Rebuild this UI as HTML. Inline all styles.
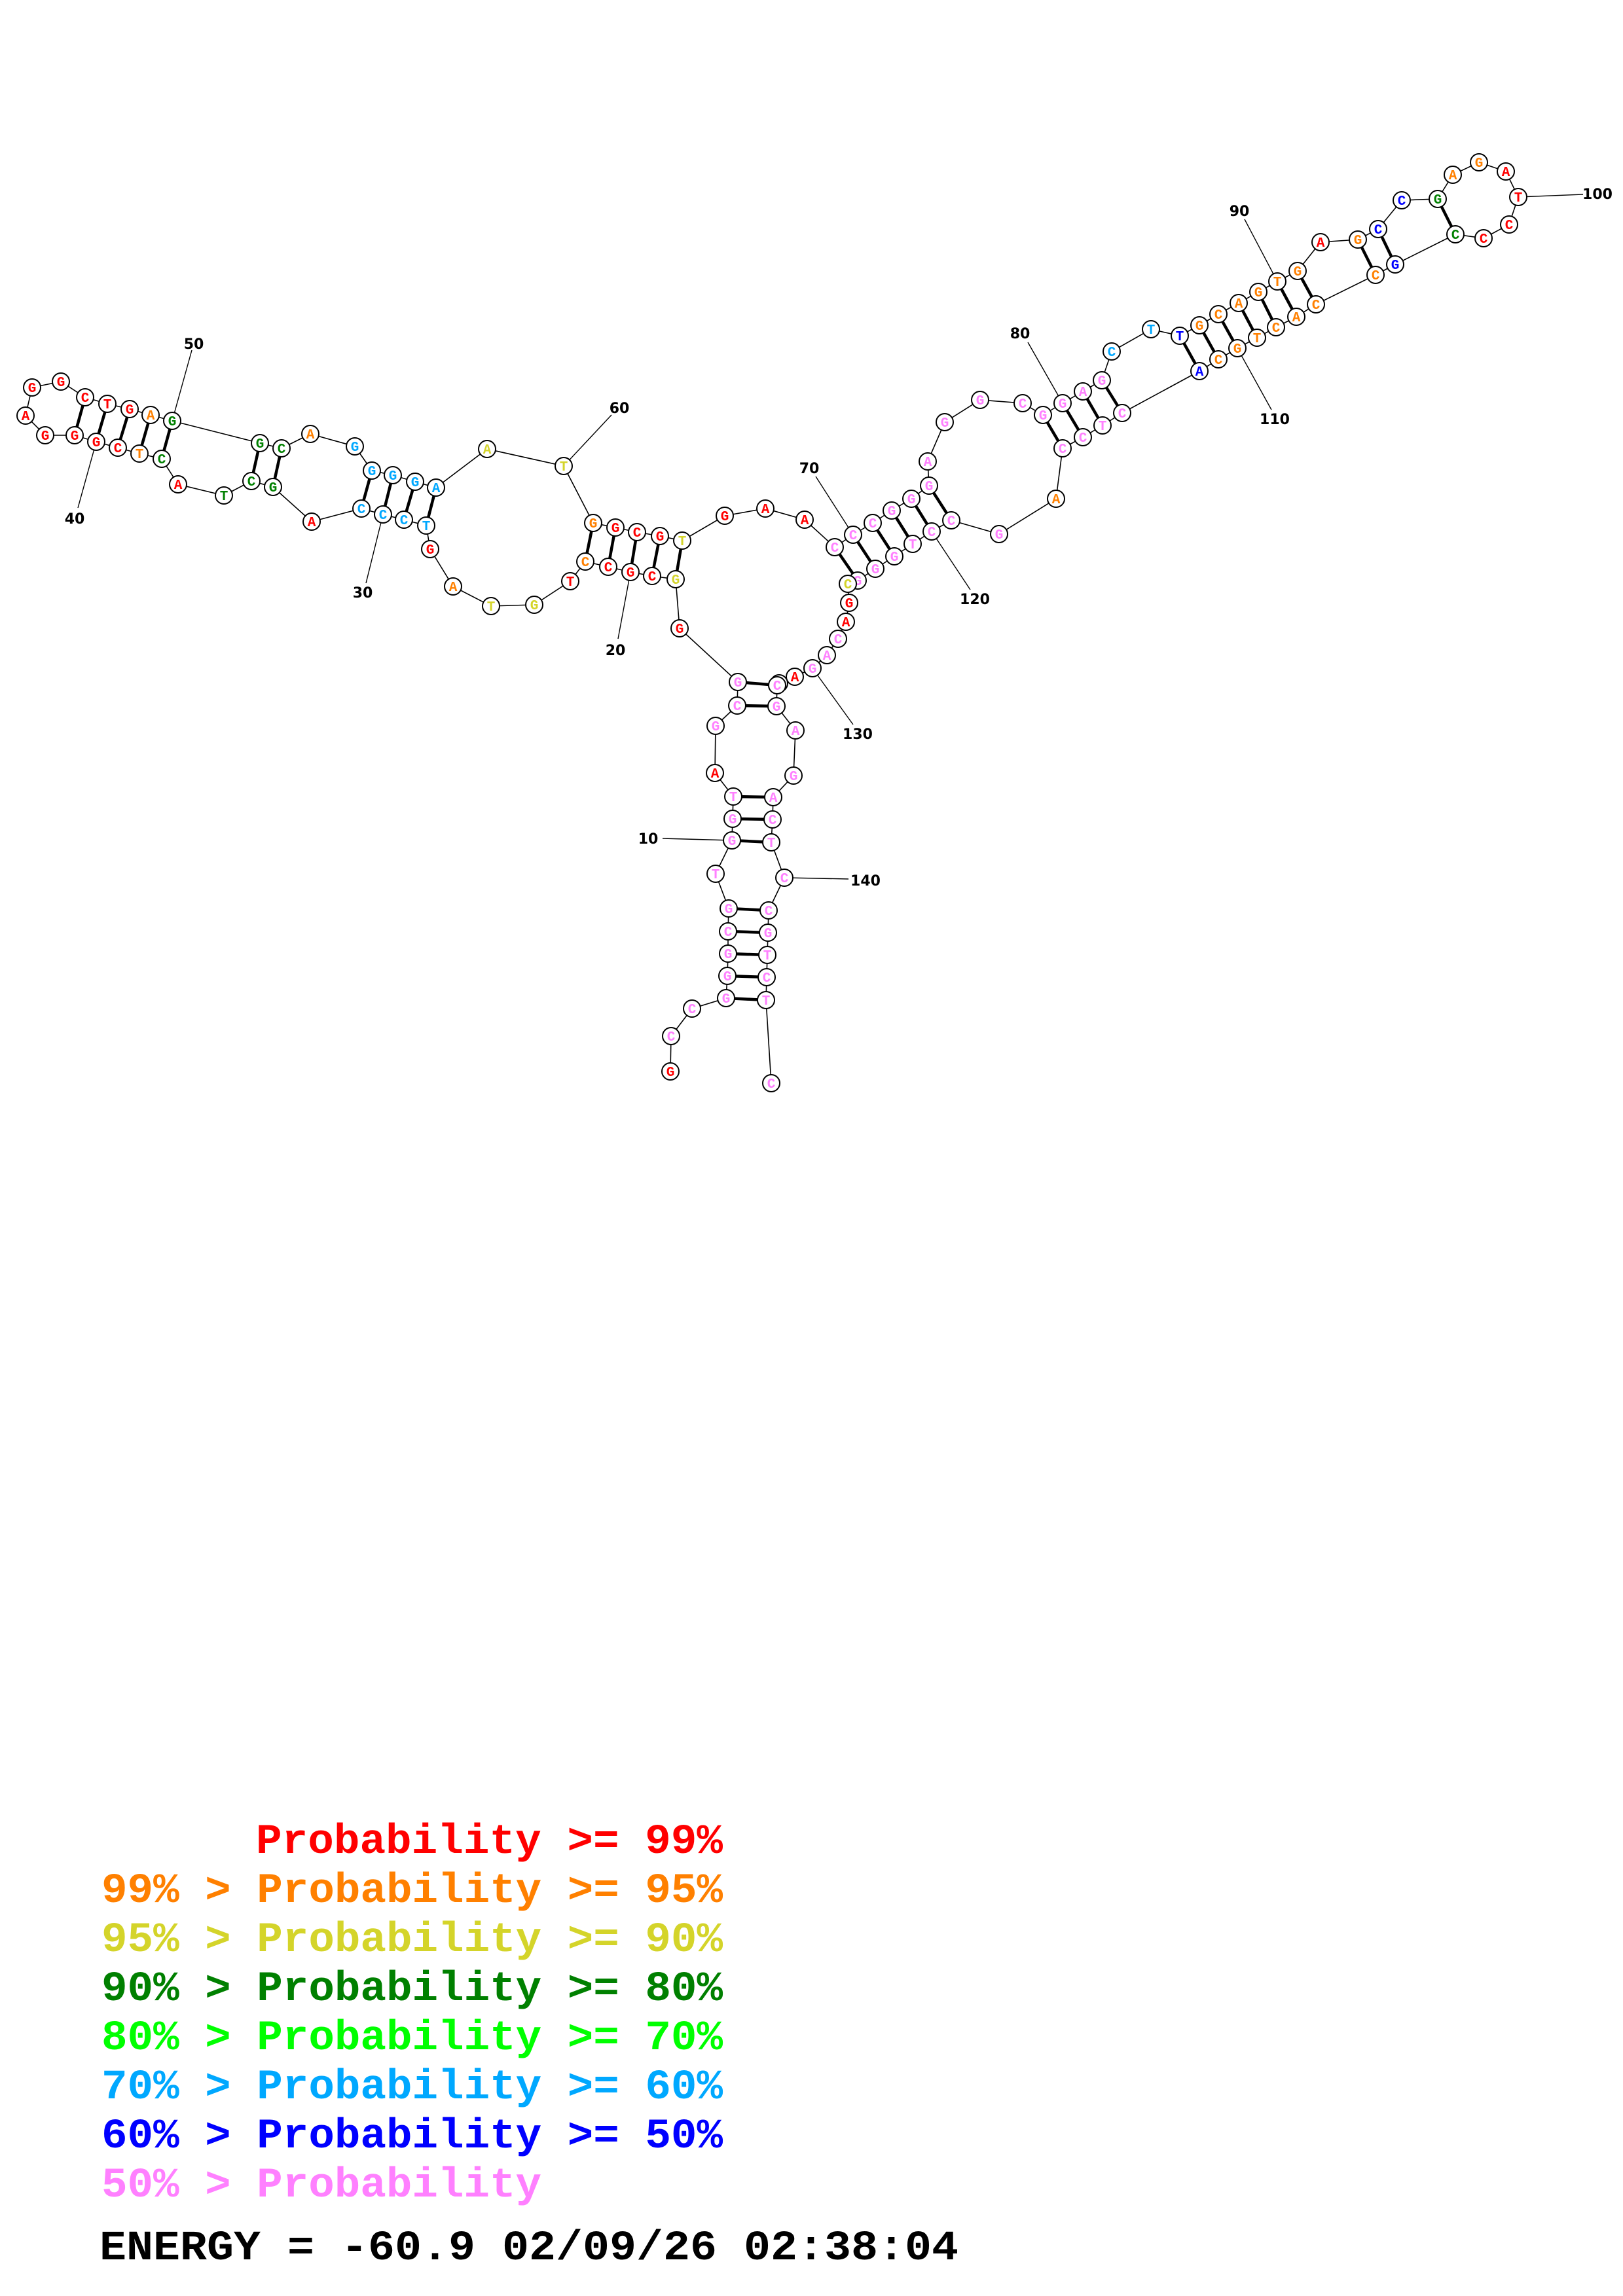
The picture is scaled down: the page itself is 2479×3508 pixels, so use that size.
<!DOCTYPE html>
<html><head><meta charset="utf-8"><style>
html,body{margin:0;padding:0;background:#fff;}
svg{display:block}
.n circle{fill:#fff;stroke:#000;stroke-width:2}
.n text{font-family:"Liberation Mono",monospace;font-weight:bold;font-size:21px;text-anchor:middle}
.r{fill:#ff0000}.o{fill:#ff8000}.y{fill:#d4d42a}.g{fill:#008000}.c{fill:#00a8ff}.b{fill:#0000ff}.p{fill:#ff80ff}
.lb{font-family:"DejaVu Sans","Liberation Sans",sans-serif;font-weight:bold;font-size:22px;text-anchor:middle;fill:#000}
.lg{font-family:"Liberation Mono",monospace;font-weight:bold;font-size:64px;white-space:pre}
</style></head><body>
<svg width="2479" height="3508" viewBox="0 0 2479 3508" xmlns="http://www.w3.org/2000/svg">
<polyline fill="none" stroke="#000" stroke-width="1.6" points="1024,1637 1025,1583 1057,1541 1109,1525 1111,1491 1112,1457 1112,1423 1113,1388 1093,1335 1118,1284 1119,1251 1120,1217 1092,1181 1093,1109 1126,1078 1127,1042 1038,960 1032,885 996,880 963,874 929,866 894,858 871,888 816,924 750,926 692,896 657,839 651,803 617,794 585,786 552,777 476,797 417,744 384,735 342,757 272,740 247,701 213,693 180,684 147,675 114,665 69,665 39,635 49,592 93,583 130,607 164,617 198,625 230,634 263,643 397,677 430,685 474,663 542,682 568,719 600,726 634,736 666,745 744,686 861,712 906,799 940,806 973,813 1008,819 1042,826 1107,788 1169,777 1229,794 1275,836 1303,817 1333,799 1362,780 1392,762 1419,742 1417,705 1443,645 1497,611 1562,616 1593,634 1623,616 1654,598 1683,581 1698,537 1758,503 1802,513 1832,497 1861,480 1892,463 1922,446 1951,430 1982,414 2017,370 2074,366 2105,350 2141,306 2196,304 2219,267 2259,248 2300,262 2319,301 2305,343 2266,364 2223,358 2131,404 2101,420 2010,465 1980,484 1949,500 1920,516 1890,532 1861,549 1832,567 1714,631 1684,650 1654,668 1623,685 1613,762 1526,816 1453,795 1423,812 1394,831 1366,850 1337,869 1310,887 1295,892 1297,921 1292,950 1280,976 1263,1001 1241,1021 1214,1034 1190,1044 1187,1047 1186,1079 1215,1116 1212,1185 1181,1218 1180,1252 1178,1287 1198,1341 1174,1391 1173,1425 1172,1459 1171,1493 1170,1528 1178,1655"/>
<g stroke="#000" stroke-width="4.5">
<line x1="1109" y1="1525" x2="1170" y2="1528"/><line x1="1111" y1="1491" x2="1171" y2="1493"/><line x1="1112" y1="1457" x2="1172" y2="1459"/><line x1="1112" y1="1423" x2="1173" y2="1425"/><line x1="1113" y1="1388" x2="1174" y2="1391"/>
<line x1="1118" y1="1284" x2="1178" y2="1287"/><line x1="1119" y1="1251" x2="1180" y2="1252"/><line x1="1120" y1="1217" x2="1181" y2="1218"/>
<line x1="1126" y1="1078" x2="1186" y2="1079"/><line x1="1127" y1="1042" x2="1187" y2="1047"/>
<line x1="1032" y1="885" x2="1042" y2="826"/><line x1="996" y1="880" x2="1008" y2="819"/><line x1="963" y1="874" x2="973" y2="813"/><line x1="929" y1="866" x2="940" y2="806"/><line x1="894" y1="858" x2="906" y2="799"/>
<line x1="651" y1="803" x2="666" y2="745"/><line x1="617" y1="794" x2="634" y2="736"/><line x1="585" y1="786" x2="600" y2="726"/><line x1="552" y1="777" x2="568" y2="719"/>
<line x1="417" y1="744" x2="430" y2="685"/><line x1="384" y1="735" x2="397" y2="677"/>
<line x1="247" y1="701" x2="263" y2="643"/><line x1="213" y1="693" x2="230" y2="634"/><line x1="180" y1="684" x2="198" y2="625"/><line x1="147" y1="675" x2="164" y2="617"/><line x1="114" y1="665" x2="130" y2="607"/>
<line x1="1275" y1="836" x2="1310" y2="887"/><line x1="1303" y1="817" x2="1337" y2="869"/><line x1="1333" y1="799" x2="1366" y2="850"/><line x1="1362" y1="780" x2="1394" y2="831"/><line x1="1392" y1="762" x2="1423" y2="812"/><line x1="1419" y1="742" x2="1453" y2="795"/>
<line x1="1593" y1="634" x2="1623" y2="685"/><line x1="1623" y1="616" x2="1654" y2="668"/><line x1="1654" y1="598" x2="1684" y2="650"/><line x1="1683" y1="581" x2="1714" y2="631"/>
<line x1="1802" y1="513" x2="1832" y2="567"/><line x1="1832" y1="497" x2="1861" y2="549"/><line x1="1861" y1="480" x2="1890" y2="532"/><line x1="1892" y1="463" x2="1920" y2="516"/><line x1="1922" y1="446" x2="1949" y2="500"/><line x1="1951" y1="430" x2="1980" y2="484"/><line x1="1982" y1="414" x2="2010" y2="465"/>
<line x1="2074" y1="366" x2="2101" y2="420"/><line x1="2105" y1="350" x2="2131" y2="404"/><line x1="2196" y1="304" x2="2223" y2="358"/>
</g>
<g stroke="#000" stroke-width="1.4">
<line x1="263" y1="643" x2="293" y2="535"/><line x1="147" y1="675" x2="119" y2="776"/><line x1="861" y1="712" x2="934" y2="634"/><line x1="585" y1="786" x2="559" y2="891"/><line x1="963" y1="874" x2="944" y2="976"/><line x1="1303" y1="817" x2="1246" y2="728"/><line x1="1423" y1="812" x2="1482" y2="901"/><line x1="1241" y1="1021" x2="1303" y2="1107"/><line x1="1118" y1="1284" x2="1012" y2="1281"/><line x1="1198" y1="1341" x2="1296" y2="1343"/><line x1="1623" y1="616" x2="1570" y2="523"/><line x1="1951" y1="430" x2="1901" y2="335"/><line x1="1890" y1="532" x2="1942" y2="626"/><line x1="2319" y1="301" x2="2418" y2="297"/>
</g>
<g class="lb">
<text x="296" y="533">50</text><text x="114" y="800">40</text><text x="946" y="631">60</text><text x="554" y="913">30</text><text x="940" y="1001">20</text><text x="1236" y="723">70</text><text x="1489" y="923">120</text><text x="1310" y="1129">130</text><text x="990" y="1289">10</text><text x="1322" y="1353">140</text><text x="1558" y="517">80</text><text x="1893" y="330">90</text><text x="1947" y="648">110</text><text x="2440" y="304">100</text>
</g>
<g class="n">
<circle cx="1024" cy="1637" r="13"/><text x="1024" y="1644" class="r">G</text>
<circle cx="1025" cy="1583" r="13"/><text x="1025" y="1590" class="p">C</text>
<circle cx="1057" cy="1541" r="13"/><text x="1057" y="1548" class="p">C</text>
<circle cx="1109" cy="1525" r="13"/><text x="1109" y="1532" class="p">G</text>
<circle cx="1111" cy="1491" r="13"/><text x="1111" y="1498" class="p">G</text>
<circle cx="1112" cy="1457" r="13"/><text x="1112" y="1464" class="p">G</text>
<circle cx="1112" cy="1423" r="13"/><text x="1112" y="1430" class="p">C</text>
<circle cx="1113" cy="1388" r="13"/><text x="1113" y="1395" class="p">G</text>
<circle cx="1093" cy="1335" r="13"/><text x="1093" y="1342" class="p">T</text>
<circle cx="1118" cy="1284" r="13"/><text x="1118" y="1291" class="p">G</text>
<circle cx="1119" cy="1251" r="13"/><text x="1119" y="1258" class="p">G</text>
<circle cx="1120" cy="1217" r="13"/><text x="1120" y="1224" class="p">T</text>
<circle cx="1092" cy="1181" r="13"/><text x="1092" y="1188" class="r">A</text>
<circle cx="1093" cy="1109" r="13"/><text x="1093" y="1116" class="p">G</text>
<circle cx="1126" cy="1078" r="13"/><text x="1126" y="1085" class="p">C</text>
<circle cx="1127" cy="1042" r="13"/><text x="1127" y="1049" class="p">G</text>
<circle cx="1038" cy="960" r="13"/><text x="1038" y="967" class="r">G</text>
<circle cx="1032" cy="885" r="13"/><text x="1032" y="892" class="y">G</text>
<circle cx="996" cy="880" r="13"/><text x="996" y="887" class="r">C</text>
<circle cx="963" cy="874" r="13"/><text x="963" y="881" class="r">G</text>
<circle cx="929" cy="866" r="13"/><text x="929" y="873" class="r">C</text>
<circle cx="894" cy="858" r="13"/><text x="894" y="865" class="o">C</text>
<circle cx="871" cy="888" r="13"/><text x="871" y="895" class="r">T</text>
<circle cx="816" cy="924" r="13"/><text x="816" y="931" class="y">G</text>
<circle cx="750" cy="926" r="13"/><text x="750" y="933" class="y">T</text>
<circle cx="692" cy="896" r="13"/><text x="692" y="903" class="o">A</text>
<circle cx="657" cy="839" r="13"/><text x="657" y="846" class="r">G</text>
<circle cx="651" cy="803" r="13"/><text x="651" y="810" class="c">T</text>
<circle cx="617" cy="794" r="13"/><text x="617" y="801" class="c">C</text>
<circle cx="585" cy="786" r="13"/><text x="585" y="793" class="c">C</text>
<circle cx="552" cy="777" r="13"/><text x="552" y="784" class="c">C</text>
<circle cx="476" cy="797" r="13"/><text x="476" y="804" class="r">A</text>
<circle cx="417" cy="744" r="13"/><text x="417" y="751" class="g">G</text>
<circle cx="384" cy="735" r="13"/><text x="384" y="742" class="g">C</text>
<circle cx="342" cy="757" r="13"/><text x="342" y="764" class="g">T</text>
<circle cx="272" cy="740" r="13"/><text x="272" y="747" class="r">A</text>
<circle cx="247" cy="701" r="13"/><text x="247" y="708" class="g">C</text>
<circle cx="213" cy="693" r="13"/><text x="213" y="700" class="o">T</text>
<circle cx="180" cy="684" r="13"/><text x="180" y="691" class="r">C</text>
<circle cx="147" cy="675" r="13"/><text x="147" y="682" class="r">G</text>
<circle cx="114" cy="665" r="13"/><text x="114" y="672" class="r">G</text>
<circle cx="69" cy="665" r="13"/><text x="69" y="672" class="r">G</text>
<circle cx="39" cy="635" r="13"/><text x="39" y="642" class="r">A</text>
<circle cx="49" cy="592" r="13"/><text x="49" y="599" class="r">G</text>
<circle cx="93" cy="583" r="13"/><text x="93" y="590" class="r">G</text>
<circle cx="130" cy="607" r="13"/><text x="130" y="614" class="r">C</text>
<circle cx="164" cy="617" r="13"/><text x="164" y="624" class="r">T</text>
<circle cx="198" cy="625" r="13"/><text x="198" y="632" class="r">G</text>
<circle cx="230" cy="634" r="13"/><text x="230" y="641" class="o">A</text>
<circle cx="263" cy="643" r="13"/><text x="263" y="650" class="g">G</text>
<circle cx="397" cy="677" r="13"/><text x="397" y="684" class="g">G</text>
<circle cx="430" cy="685" r="13"/><text x="430" y="692" class="g">C</text>
<circle cx="474" cy="663" r="13"/><text x="474" y="670" class="o">A</text>
<circle cx="542" cy="682" r="13"/><text x="542" y="689" class="c">G</text>
<circle cx="568" cy="719" r="13"/><text x="568" y="726" class="c">G</text>
<circle cx="600" cy="726" r="13"/><text x="600" y="733" class="c">G</text>
<circle cx="634" cy="736" r="13"/><text x="634" y="743" class="c">G</text>
<circle cx="666" cy="745" r="13"/><text x="666" y="752" class="c">A</text>
<circle cx="744" cy="686" r="13"/><text x="744" y="693" class="y">A</text>
<circle cx="861" cy="712" r="13"/><text x="861" y="719" class="y">T</text>
<circle cx="906" cy="799" r="13"/><text x="906" y="806" class="o">G</text>
<circle cx="940" cy="806" r="13"/><text x="940" y="813" class="r">G</text>
<circle cx="973" cy="813" r="13"/><text x="973" y="820" class="r">C</text>
<circle cx="1008" cy="819" r="13"/><text x="1008" y="826" class="r">G</text>
<circle cx="1042" cy="826" r="13"/><text x="1042" y="833" class="y">T</text>
<circle cx="1107" cy="788" r="13"/><text x="1107" y="795" class="r">G</text>
<circle cx="1169" cy="777" r="13"/><text x="1169" y="784" class="r">A</text>
<circle cx="1229" cy="794" r="13"/><text x="1229" y="801" class="r">A</text>
<circle cx="1275" cy="836" r="13"/><text x="1275" y="843" class="p">C</text>
<circle cx="1303" cy="817" r="13"/><text x="1303" y="824" class="p">C</text>
<circle cx="1333" cy="799" r="13"/><text x="1333" y="806" class="p">C</text>
<circle cx="1362" cy="780" r="13"/><text x="1362" y="787" class="p">G</text>
<circle cx="1392" cy="762" r="13"/><text x="1392" y="769" class="p">G</text>
<circle cx="1419" cy="742" r="13"/><text x="1419" y="749" class="p">G</text>
<circle cx="1417" cy="705" r="13"/><text x="1417" y="712" class="p">A</text>
<circle cx="1443" cy="645" r="13"/><text x="1443" y="652" class="p">G</text>
<circle cx="1497" cy="611" r="13"/><text x="1497" y="618" class="p">G</text>
<circle cx="1562" cy="616" r="13"/><text x="1562" y="623" class="p">C</text>
<circle cx="1593" cy="634" r="13"/><text x="1593" y="641" class="p">G</text>
<circle cx="1623" cy="616" r="13"/><text x="1623" y="623" class="p">G</text>
<circle cx="1654" cy="598" r="13"/><text x="1654" y="605" class="p">A</text>
<circle cx="1683" cy="581" r="13"/><text x="1683" y="588" class="p">G</text>
<circle cx="1698" cy="537" r="13"/><text x="1698" y="544" class="c">C</text>
<circle cx="1758" cy="503" r="13"/><text x="1758" y="510" class="c">T</text>
<circle cx="1802" cy="513" r="13"/><text x="1802" y="520" class="b">T</text>
<circle cx="1832" cy="497" r="13"/><text x="1832" y="504" class="o">G</text>
<circle cx="1861" cy="480" r="13"/><text x="1861" y="487" class="o">C</text>
<circle cx="1892" cy="463" r="13"/><text x="1892" y="470" class="o">A</text>
<circle cx="1922" cy="446" r="13"/><text x="1922" y="453" class="o">G</text>
<circle cx="1951" cy="430" r="13"/><text x="1951" y="437" class="o">T</text>
<circle cx="1982" cy="414" r="13"/><text x="1982" y="421" class="o">G</text>
<circle cx="2017" cy="370" r="13"/><text x="2017" y="377" class="r">A</text>
<circle cx="2074" cy="366" r="13"/><text x="2074" y="373" class="o">G</text>
<circle cx="2105" cy="350" r="13"/><text x="2105" y="357" class="b">C</text>
<circle cx="2141" cy="306" r="13"/><text x="2141" y="313" class="b">C</text>
<circle cx="2196" cy="304" r="13"/><text x="2196" y="311" class="g">G</text>
<circle cx="2219" cy="267" r="13"/><text x="2219" y="274" class="o">A</text>
<circle cx="2259" cy="248" r="13"/><text x="2259" y="255" class="o">G</text>
<circle cx="2300" cy="262" r="13"/><text x="2300" y="269" class="r">A</text>
<circle cx="2319" cy="301" r="13"/><text x="2319" y="308" class="r">T</text>
<circle cx="2305" cy="343" r="13"/><text x="2305" y="350" class="r">C</text>
<circle cx="2266" cy="364" r="13"/><text x="2266" y="371" class="r">C</text>
<circle cx="2223" cy="358" r="13"/><text x="2223" y="365" class="g">C</text>
<circle cx="2131" cy="404" r="13"/><text x="2131" y="411" class="b">G</text>
<circle cx="2101" cy="420" r="13"/><text x="2101" y="427" class="o">C</text>
<circle cx="2010" cy="465" r="13"/><text x="2010" y="472" class="o">C</text>
<circle cx="1980" cy="484" r="13"/><text x="1980" y="491" class="o">A</text>
<circle cx="1949" cy="500" r="13"/><text x="1949" y="507" class="o">C</text>
<circle cx="1920" cy="516" r="13"/><text x="1920" y="523" class="o">T</text>
<circle cx="1890" cy="532" r="13"/><text x="1890" y="539" class="o">G</text>
<circle cx="1861" cy="549" r="13"/><text x="1861" y="556" class="o">C</text>
<circle cx="1832" cy="567" r="13"/><text x="1832" y="574" class="b">A</text>
<circle cx="1714" cy="631" r="13"/><text x="1714" y="638" class="p">C</text>
<circle cx="1684" cy="650" r="13"/><text x="1684" y="657" class="p">T</text>
<circle cx="1654" cy="668" r="13"/><text x="1654" y="675" class="p">C</text>
<circle cx="1623" cy="685" r="13"/><text x="1623" y="692" class="p">C</text>
<circle cx="1613" cy="762" r="13"/><text x="1613" y="769" class="o">A</text>
<circle cx="1526" cy="816" r="13"/><text x="1526" y="823" class="p">G</text>
<circle cx="1453" cy="795" r="13"/><text x="1453" y="802" class="p">C</text>
<circle cx="1423" cy="812" r="13"/><text x="1423" y="819" class="p">C</text>
<circle cx="1394" cy="831" r="13"/><text x="1394" y="838" class="p">T</text>
<circle cx="1366" cy="850" r="13"/><text x="1366" y="857" class="p">G</text>
<circle cx="1337" cy="869" r="13"/><text x="1337" y="876" class="p">G</text>
<circle cx="1310" cy="887" r="13"/><text x="1310" y="894" class="p">G</text>
<circle cx="1295" cy="892" r="13"/><text x="1295" y="899" class="y">C</text>
<circle cx="1297" cy="921" r="13"/><text x="1297" y="928" class="r">G</text>
<circle cx="1292" cy="950" r="13"/><text x="1292" y="957" class="r">A</text>
<circle cx="1280" cy="976" r="13"/><text x="1280" y="983" class="p">C</text>
<circle cx="1263" cy="1001" r="13"/><text x="1263" y="1008" class="p">A</text>
<circle cx="1241" cy="1021" r="13"/><text x="1241" y="1028" class="p">G</text>
<circle cx="1214" cy="1034" r="13"/><text x="1214" y="1041" class="r">A</text>
<circle cx="1190" cy="1044" r="13"/><text x="1190" y="1051" class="p">C</text>
<circle cx="1187" cy="1047" r="13"/><text x="1187" y="1054" class="p">C</text>
<circle cx="1186" cy="1079" r="13"/><text x="1186" y="1086" class="p">G</text>
<circle cx="1215" cy="1116" r="13"/><text x="1215" y="1123" class="p">A</text>
<circle cx="1212" cy="1185" r="13"/><text x="1212" y="1192" class="p">G</text>
<circle cx="1181" cy="1218" r="13"/><text x="1181" y="1225" class="p">A</text>
<circle cx="1180" cy="1252" r="13"/><text x="1180" y="1259" class="p">C</text>
<circle cx="1178" cy="1287" r="13"/><text x="1178" y="1294" class="p">T</text>
<circle cx="1198" cy="1341" r="13"/><text x="1198" y="1348" class="p">C</text>
<circle cx="1174" cy="1391" r="13"/><text x="1174" y="1398" class="p">C</text>
<circle cx="1173" cy="1425" r="13"/><text x="1173" y="1432" class="p">G</text>
<circle cx="1172" cy="1459" r="13"/><text x="1172" y="1466" class="p">T</text>
<circle cx="1171" cy="1493" r="13"/><text x="1171" y="1500" class="p">C</text>
<circle cx="1170" cy="1528" r="13"/><text x="1170" y="1535" class="p">T</text>
<circle cx="1178" cy="1655" r="13"/><text x="1178" y="1662" class="p">C</text>
</g>
<g class="lg">
<text x="391" y="2831" class="r" textLength="713" lengthAdjust="spacingAndGlyphs">Probability &gt;= 99%</text>
<text x="155" y="2906" class="o" textLength="949" lengthAdjust="spacingAndGlyphs">99% &gt; Probability &gt;= 95%</text>
<text x="155" y="2981" class="y" textLength="949" lengthAdjust="spacingAndGlyphs">95% &gt; Probability &gt;= 90%</text>
<text x="155" y="3056" class="g" textLength="949" lengthAdjust="spacingAndGlyphs">90% &gt; Probability &gt;= 80%</text>
<text x="155" y="3131" style="fill:#00ff00" textLength="949" lengthAdjust="spacingAndGlyphs">80% &gt; Probability &gt;= 70%</text>
<text x="155" y="3206" class="c" textLength="949" lengthAdjust="spacingAndGlyphs">70% &gt; Probability &gt;= 60%</text>
<text x="155" y="3281" class="b" textLength="949" lengthAdjust="spacingAndGlyphs">60% &gt; Probability &gt;= 50%</text>
<text x="155" y="3356" class="p" textLength="672" lengthAdjust="spacingAndGlyphs">50% &gt; Probability</text>
<text x="152" y="3452" style="fill:#000" textLength="1312" lengthAdjust="spacingAndGlyphs">ENERGY = -60.9  02/09/26 02:38:04</text>
</g>
</svg>
</body></html>
